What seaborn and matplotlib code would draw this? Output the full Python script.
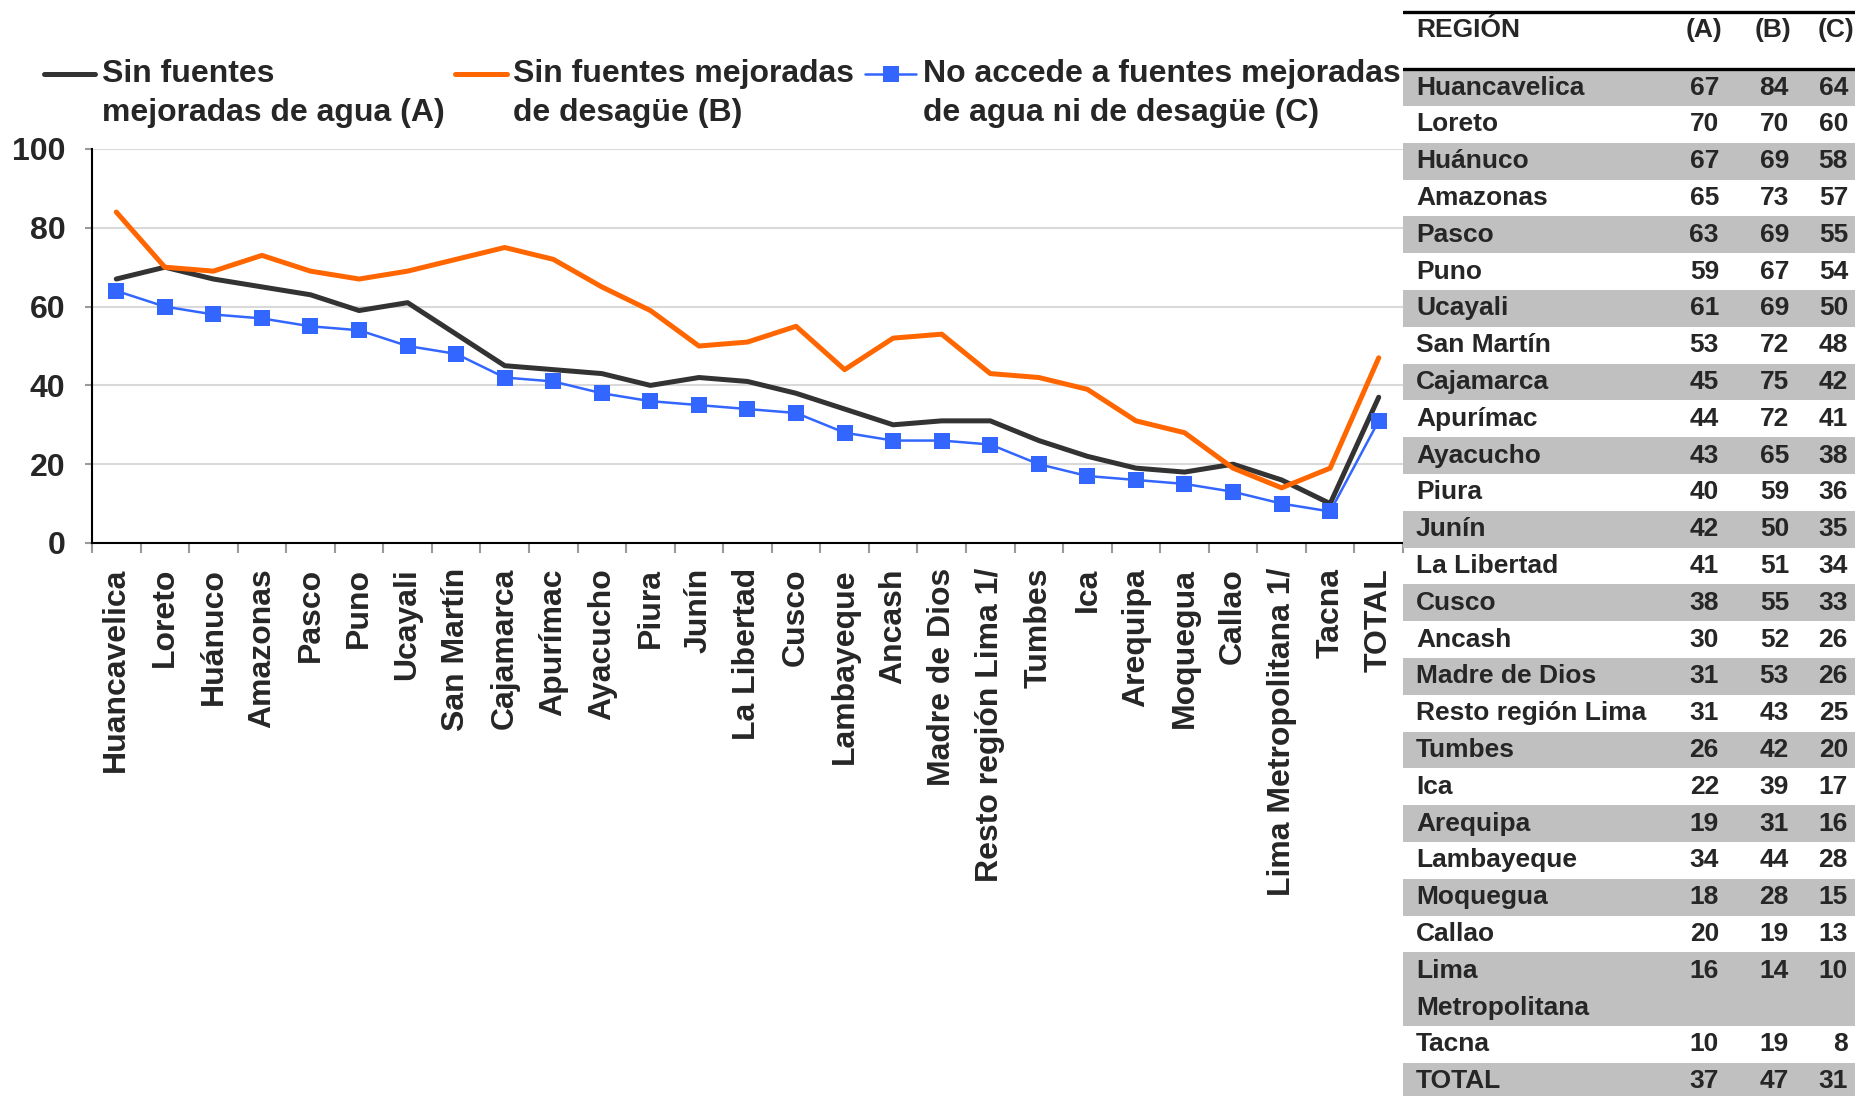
import numpy as np
import matplotlib
matplotlib.use("Agg")
import matplotlib.pyplot as plt
import seaborn as sns
from matplotlib.patches import Rectangle
from matplotlib.legend_handler import HandlerLine2D

# ---------------- data ----------------
regions = ["Huancavelica", "Loreto", "Huánuco", "Amazonas", "Pasco", "Puno",
           "Ucayali", "San Martín", "Cajamarca", "Apurímac", "Ayacucho", "Piura",
           "Junín", "La Libertad", "Cusco", "Lambayeque", "Ancash", "Madre de Dios",
           "Resto región Lima 1/", "Tumbes", "Ica", "Arequipa", "Moquegua", "Callao",
           "Lima Metropolitana 1/", "Tacna", "TOTAL"]
serie_A = [67, 70, 67, 65, 63, 59, 61, 53, 45, 44, 43, 40, 42, 41, 38, 34, 30, 31,
           31, 26, 22, 19, 18, 20, 16, 10, 37]
serie_B = [84, 70, 69, 73, 69, 67, 69, 72, 75, 72, 65, 59, 50, 51, 55, 44, 52, 53,
           43, 42, 39, 31, 28, 19, 14, 19, 47]
serie_C = [64, 60, 58, 57, 55, 54, 50, 48, 42, 41, 38, 36, 35, 34, 33, 28, 26, 26,
           25, 20, 17, 16, 15, 13, 10, 8, 31]
legend_labels = ["Sin fuentes\nmejoradas de agua (A)",
                 "Sin fuentes mejoradas\nde desagüe (B)",
                 "No accede a fuentes mejoradas\nde agua ni de desagüe (C)"]
yticks = [0, 20, 40, 60, 80, 100]

table_header = ["REGIÓN", "(A)", "(B)", "(C)"]
table_rows = [  # (display name, chart region key)
    ("Huancavelica", "Huancavelica"), ("Loreto", "Loreto"), ("Huánuco", "Huánuco"),
    ("Amazonas", "Amazonas"), ("Pasco", "Pasco"), ("Puno", "Puno"),
    ("Ucayali", "Ucayali"), ("San Martín", "San Martín"), ("Cajamarca", "Cajamarca"),
    ("Apurímac", "Apurímac"), ("Ayacucho", "Ayacucho"), ("Piura", "Piura"),
    ("Junín", "Junín"), ("La Libertad", "La Libertad"), ("Cusco", "Cusco"),
    ("Ancash", "Ancash"), ("Madre de Dios", "Madre de Dios"),
    ("Resto región Lima", "Resto región Lima 1/"), ("Tumbes", "Tumbes"),
    ("Ica", "Ica"), ("Arequipa", "Arequipa"), ("Lambayeque", "Lambayeque"),
    ("Moquegua", "Moquegua"), ("Callao", "Callao"),
    ("Lima\nMetropolitana", "Lima Metropolitana 1/"), ("Tacna", "Tacna"),
    ("TOTAL", "TOTAL")]

# ---------------- style ----------------
sns.set_style("white")
plt.rcParams['font.family'] = ['Liberation Sans', 'DejaVu Sans']
plt.rcParams['font.weight'] = 'bold'

W, H = 1856, 1096
fig = plt.figure(figsize=(W / 100, H / 100), dpi=100)

col_A, col_B, col_C = "#333333", "#FF6600", "#3366FF"

ax = fig.add_axes([92 / W, 1 - 543 / H, (1403 - 92) / W, (543 - 149) / H])
x = np.arange(len(regions))
sns.lineplot(x=x, y=serie_A, ax=ax, color=col_A, lw=3.6, label=legend_labels[0])
sns.lineplot(x=x, y=serie_B, ax=ax, color=col_B, lw=3.6, label=legend_labels[1])
sns.lineplot(x=x, y=serie_C, ax=ax, color=col_C, lw=1.8, marker='s', markersize=12,
             markeredgewidth=0, label=legend_labels[2])
handles = ax.get_lines()[:3]
ax.get_legend().remove()

ax.set_xlim(-0.5, len(x) - 0.5)
ax.set_ylim(0, 100)
ax.set_yticks(yticks)
ax.set_yticklabels([str(v) for v in yticks], fontsize=23, fontweight='bold')
ax.yaxis.grid(True, color='#D9D9D9', lw=1.5)
ax.xaxis.grid(False)
ax.set_axisbelow(True)
ax.set_xticks(x)
ax.set_xticklabels(regions, rotation=90, fontsize=23, fontweight='bold')
ax.set_xticks(np.arange(-0.5, len(x), 1), minor=True)
ax.tick_params(axis='x', which='major', length=0, pad=18)
ax.tick_params(axis='x', which='minor', length=7, color='#9A9A9A', width=1.5, bottom=True)
ax.tick_params(axis='y', length=5, color='#9A9A9A', width=1.5, pad=14, left=True)
for s in ['top', 'right']:
    ax.spines[s].set_visible(False)
for s in ['left', 'bottom']:
    ax.spines[s].set_color('black')
    ax.spines[s].set_linewidth(1.5)
ax.set_xlabel("")
ax.set_ylabel("")

# ---------------- legend (handle aligned with first text line) ----------------
HANDLE_RAISE_PT = 14.0


class HandlerFirstLine(HandlerLine2D):
    def create_artists(self, legend, orig_handle, xdescent, ydescent, width,
                       height, fontsize, trans):
        arts = super().create_artists(legend, orig_handle, xdescent, ydescent,
                                      width, height, fontsize, trans)
        for a in arts:
            a.set_ydata(np.asarray(a.get_ydata(), dtype=float) + HANDLE_RAISE_PT)
        return arts


leg = fig.legend(handles, legend_labels, ncol=3, frameon=False,
                 loc='upper left', bbox_to_anchor=(44 / W, 1 - 59 / H),
                 prop={'size': 23, 'weight': 'bold'},
                 handlelength=1.6, handletextpad=0.2, columnspacing=0.35,
                 borderpad=0, borderaxespad=0,
                 handler_map={h: HandlerFirstLine() for h in handles})
for t in leg.get_texts():
    t.set_linespacing(1.38)

# ---------------- table ----------------
axt = fig.add_axes([1403 / W, 0, (W - 1403) / W, 1])
axt.set_xlim(0, W - 1403)
axt.set_ylim(H, 0)
axt.axis('off')

vals = {r: (a, b, c) for r, a, b, c in zip(regions, serie_A, serie_B, serie_C)}
slot0, slot_h = 87.6, 36.8
name_x, col_right = 13, [316, 386, 445]
head_right = [319, 388, 451]
fs_t = 19

axt.axhline(11.8, color='black', lw=2.4)
axt.axhline(slot0 - slot_h / 2, color='black', lw=2.4)
axt.text(name_x, 29.6, table_header[0], ha='left', va='center', fontsize=fs_t,
         fontweight='bold')
for hx, htxt in zip(head_right, table_header[1:]):
    axt.text(hx, 29.6, htxt, ha='right', va='center', fontsize=fs_t, fontweight='bold')

slot = 0
for i, (name, key) in enumerate(table_rows):
    lines = name.split("\n")
    ytop = slot0 + slot * slot_h - slot_h / 2
    if i % 2 == 0:
        axt.add_patch(Rectangle((0, ytop), W - 1403, slot_h * len(lines),
                                color='#C0C0C0', lw=0, zorder=0))
    for k, ln in enumerate(lines):
        axt.text(name_x, slot0 + (slot + k) * slot_h, ln, ha='left', va='center',
                 fontsize=fs_t, fontweight='bold', zorder=2)
    for cx, v in zip(col_right, vals[key]):
        axt.text(cx, slot0 + slot * slot_h, f"{v}", ha='right', va='center',
                 fontsize=fs_t, fontweight='bold', zorder=2)
    slot += len(lines)

fig.savefig("out.png", dpi=100)
